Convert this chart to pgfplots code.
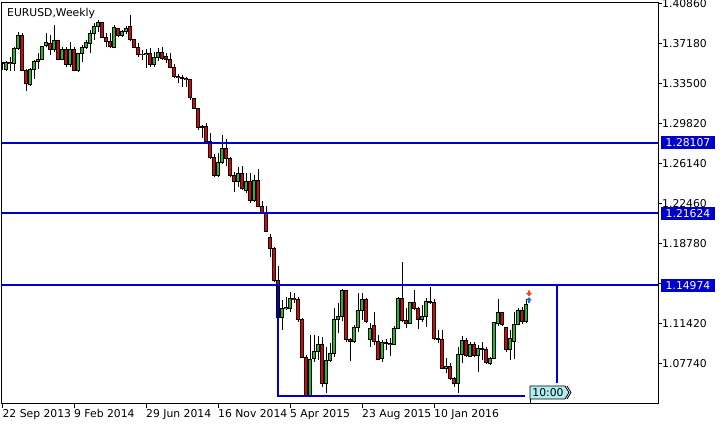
\documentclass[border=0pt]{standalone}
\usepackage{pgfplots}
\pgfplotsset{compat=1.18}
\usepackage{pgfplotstable}
\usepackage{fontspec}
\setmainfont{DejaVu Sans}
\definecolor{hl}{RGB}{0,0,204}
\definecolor{bull}{RGB}{30,190,30}
\definecolor{bear}{RGB}{230,0,0}
\definecolor{tlab}{RGB}{176,238,238}
\definecolor{sellc}{RGB}{240,70,30}
\definecolor{buyc}{RGB}{30,110,200}
\newcommand{\mtfont}{\fontsize{10.8bp}{12bp}\selectfont}

\pgfdeclareplotmark{arrdown}{%
  \pgfpathmoveto{\pgfqpoint{-1bp}{3bp}}\pgfpathlineto{\pgfqpoint{1bp}{3bp}}%
  \pgfpathlineto{\pgfqpoint{1bp}{0.5bp}}\pgfpathlineto{\pgfqpoint{3bp}{0.5bp}}%
  \pgfpathlineto{\pgfqpoint{0bp}{-3bp}}\pgfpathlineto{\pgfqpoint{-3bp}{0.5bp}}%
  \pgfpathlineto{\pgfqpoint{-1bp}{0.5bp}}\pgfpathclose\pgfusepathqfill}
\pgfdeclareplotmark{arrup}{%
  \pgfpathmoveto{\pgfqpoint{-1bp}{-3bp}}\pgfpathlineto{\pgfqpoint{1bp}{-3bp}}%
  \pgfpathlineto{\pgfqpoint{1bp}{-0.5bp}}\pgfpathlineto{\pgfqpoint{3bp}{-0.5bp}}%
  \pgfpathlineto{\pgfqpoint{0bp}{3bp}}\pgfpathlineto{\pgfqpoint{-3bp}{-0.5bp}}%
  \pgfpathlineto{\pgfqpoint{-1bp}{-0.5bp}}\pgfpathclose\pgfusepathqfill}

\pgfplotstableread{
i O H L C
-1 1.35432 1.35524 1.34788 1.35340
0 1.34852 1.35616 1.34696 1.35460
1 1.35460 1.36012 1.34724 1.35340
2 1.35340 1.36932 1.34724 1.36784
3 1.36784 1.38312 1.36628 1.37916
4 1.37916 1.38164 1.34650 1.34724
5 1.34724 1.34834 1.32884 1.33564
6 1.33472 1.34944 1.33344 1.34852
7 1.34852 1.35708 1.33988 1.35524
8 1.35524 1.36324 1.34852 1.35772
9 1.35772 1.36996 1.35708 1.36932
10 1.37042 1.38164 1.36904 1.37336
11 1.37244 1.38008 1.36168 1.36692
12 1.36692 1.38928 1.36472 1.37456
13 1.37484 1.37548 1.35708 1.35772
14 1.35772 1.36932 1.35662 1.36628
15 1.36628 1.36932 1.35092 1.35312
16 1.35312 1.37336 1.35092 1.36692
17 1.36692 1.36876 1.34650 1.34724
18 1.34724 1.36380 1.34632 1.36260
19 1.36260 1.37088 1.35552 1.36876
20 1.36876 1.37548 1.36692 1.37336
21 1.37244 1.38468 1.36324 1.38164
22 1.38100 1.39084 1.37548 1.38772
23 1.38772 1.39388 1.38312 1.39140
24 1.39140 1.39232 1.37704 1.37796
25 1.37796 1.38164 1.36932 1.37392
26 1.37392 1.38164 1.36784 1.36932
27 1.36876 1.38928 1.36784 1.38716
28 1.38560 1.38624 1.37796 1.37916
29 1.37916 1.38468 1.37852 1.38284
30 1.38284 1.38836 1.38100 1.38624
31 1.38744 1.39848 1.37484 1.37548
32 1.37548 1.37594 1.36784 1.36876
33 1.36876 1.37300 1.36012 1.36232
34 1.36232 1.36628 1.35708 1.36168
35 1.36168 1.36720 1.34944 1.36306
36 1.36306 1.36784 1.35092 1.35312
37 1.35312 1.36472 1.35036 1.35920
38 1.35920 1.36784 1.35644 1.36416
39 1.36416 1.36932 1.35708 1.35800
40 1.36002 1.36324 1.35460 1.35772
41 1.35772 1.36324 1.34944 1.35036
42 1.35036 1.35340 1.34024 1.34172
43 1.34172 1.34420 1.33564 1.34098
44 1.34098 1.34328 1.33252 1.34006
45 1.34006 1.34144 1.33224 1.33932
46 1.33932 1.33960 1.32028 1.32212
47 1.32166 1.32212 1.31200 1.31264
48 1.31264 1.31292 1.29268 1.29452
49 1.29452 1.29728 1.28532 1.29544
50 1.29544 1.29940 1.28100 1.28164
51 1.28164 1.28992 1.26600 1.26720
52 1.26720 1.27060 1.24944 1.25036
53 1.25036 1.27152 1.24944 1.26232
54 1.26232 1.28808 1.26140 1.27520
55 1.27520 1.28440 1.25956 1.26600
56 1.26600 1.26784 1.24944 1.25036
57 1.25036 1.25404 1.23564 1.24484
58 1.24484 1.25864 1.24024 1.25220
59 1.25220 1.25956 1.23748 1.23840
60 1.23656 1.25312 1.23472 1.24484
61 1.24484 1.25312 1.22552 1.22736
62 1.22736 1.25128 1.22644 1.24576
63 1.24576 1.25680 1.22138 1.22184
64 1.22184 1.22736 1.21586 1.21632
65 1.21632 1.22276 1.19838 1.19884
66 1.19332 1.19700 1.17584 1.18320
67 1.18320 1.18504 1.15284 1.15376
68 1.15376 1.16756 1.10960 1.11972
69 1.11972 1.13628 1.10868 1.12800
70 1.12800 1.13932 1.12708 1.12938
71 1.12800 1.14392 1.12552 1.13784
72 1.13784 1.14272 1.13352 1.13674
73 1.13674 1.13932 1.11632 1.11788
74 1.11788 1.11944 1.08264 1.08320
75 1.08320 1.08568 1.04676 1.04796
76 1.04796 1.10408 1.04658 1.08108
77 1.08228 1.10408 1.07924 1.08872
78 1.08872 1.10316 1.08108 1.09552
79 1.09552 1.10252 1.05652 1.05964
80 1.05946 1.09332 1.05100 1.08016
81 1.08016 1.09644 1.07952 1.08660
82 1.08660 1.12864 1.08412 1.11852
83 1.11852 1.13324 1.10564 1.12064
84 1.12064 1.14612 1.11724 1.14456
85 1.14456 1.14484 1.09792 1.09948
86 1.09948 1.10104 1.08044 1.09810
87 1.09810 1.11328 1.09700 1.11080
88 1.11052 1.14300 1.10712 1.12616
89 1.12616 1.14300 1.11788 1.13628
90 1.13628 1.13784 1.11540 1.11632
91 1.09948 1.11484 1.09332 1.11024
92 1.11236 1.12552 1.09488 1.09792
93 1.09792 1.10408 1.08108 1.08172
94 1.08200 1.09948 1.07952 1.09736
95 1.09736 1.10012 1.09028 1.09644
96 1.09644 1.10104 1.08476 1.09534
97 1.09534 1.11236 1.09488 1.11024
98 1.11024 1.13932 1.10932 1.13784
99 1.13766 1.17096 1.11632 1.11724
100 1.11724 1.12864 1.11024 1.11484
101 1.11484 1.13472 1.11420 1.13380
102 1.13380 1.14548 1.12708 1.12800
103 1.12800 1.13012 1.10932 1.11852
104 1.11852 1.13168 1.11632 1.12092
105 1.12092 1.13784 1.11172 1.13472
106 1.13472 1.14852 1.13260 1.13380
107 1.13380 1.13692 1.09948 1.10104
108 1.10104 1.10868 1.09626 1.10012
109 1.10012 1.10868 1.07252 1.07344
110 1.07344 1.08264 1.06884 1.07492
111 1.07492 1.07804 1.06268 1.06424
112 1.06424 1.06572 1.05652 1.05900
113 1.05900 1.09332 1.05100 1.08632
114 1.08632 1.10316 1.07804 1.09856
115 1.09856 1.10104 1.08412 1.08476
116 1.08412 1.09792 1.08356 1.09488
117 1.09488 1.09792 1.08356 1.08476
118 1.08476 1.09488 1.07032 1.09184
119 1.09184 1.09792 1.08108 1.09092
120 1.09092 1.09332 1.07740 1.07860
121 1.07804 1.08356 1.07648 1.08264
122 1.08264 1.11604 1.08172 1.11540
123 1.11420 1.13692 1.11236 1.12496
124 1.12496 1.12524 1.11236 1.11328
125 1.11080 1.11172 1.08872 1.09092
126 1.09028 1.10868 1.08108 1.10104
127 1.09792 1.12552 1.08172 1.11392
128 1.11392 1.12864 1.11328 1.12616
129 1.12616 1.13012 1.11420 1.11632
130 1.11632 1.13692 1.11484 1.13232
}\candles

\begin{document}
\begin{tikzpicture}
\fill[white] (0,0) rectangle (728bp,428bp);
\begin{axis}[
  name=ax, at={(1bp,24bp)}, anchor=south west,
  scale only axis, width=657bp, height=401bp,
  xmin=-1.25, xmax=163, ymin=1.0406, ymax=1.40952,
  axis line style={black, line width=1bp},
  tick style={black, line width=1bp},
  tick align=outside, major tick length=4bp,
  xtick pos=bottom, ytick pos=right,
  xtick={-0.9,17,35,53,71,89,107},
  xticklabels={22 Sep 2013,9 Feb 2014,29 Jun 2014,16 Nov 2014,5 Apr 2015,23 Aug 2015,10 Jan 2016},
  ytick={1.0774,1.1142,1.1510,1.1878,1.2246,1.2614,1.2982,1.3350,1.3718,1.4086},
  yticklabels={1.07740,1.11420,,1.18780,1.22460,1.26140,1.29820,1.33500,1.37180,1.40860},
  yticklabel pos=right,
  xticklabel style={anchor=north west, inner sep=0pt, yshift=-1.5bp, font=\mtfont},
  yticklabel style={anchor=west, inner sep=0pt, font=\mtfont},
  clip=true,
]
% wicks
\addplot[black, line width=1bp, forget plot,
  quiver={u=0, v={\thisrow{H}-\thisrow{L}}}] table[x=i, y=L] {\candles};
% body outlines
\addplot[black, line width=3.4bp, forget plot,
  quiver={u=0, v={\thisrow{C}-\thisrow{O}},
    every arrow/.append style={shorten <=-0.5bp, shorten >=-0.5bp}}]
  table[x=i, y=O] {\candles};
% bull bodies
\addplot[bull, line width=1.6bp, forget plot,
  restrict expr to domain={\thisrow{C}-\thisrow{O}}{0:1},
  quiver={u=0, v={\thisrow{C}-\thisrow{O}},
    every arrow/.append style={shorten <=0.5bp, shorten >=0.5bp}}]
  table[x=i, y=O] {\candles};
% bear bodies
\addplot[bear, line width=1.6bp, forget plot,
  restrict expr to domain={\thisrow{C}-\thisrow{O}}{-1:0},
  quiver={u=0, v={\thisrow{C}-\thisrow{O}},
    every arrow/.append style={shorten <=0.5bp, shorten >=0.5bp}}]
  table[x=i, y=O] {\candles};
% horizontal levels
\addplot[hl, line width=2bp, forget plot] coordinates {(-5,1.28107) (170,1.28107)};
\addplot[hl, line width=2bp, forget plot] coordinates {(-5,1.21624) (170,1.21624)};
\addplot[hl, line width=2bp, forget plot] coordinates {(-5,1.14974) (170,1.14974)};
% rectangle
\addplot[hl, line width=2bp, forget plot] coordinates {(129.75,1.04796) (68,1.04796) (68,1.14974) (137.8,1.14974) (137.8,1.0599)};
% trade arrows
\addplot[only marks, mark=arrdown, color=sellc, forget plot] coordinates {(130.75,1.14226)};
\addplot[only marks, mark=arrup, color=buyc, forget plot] coordinates {(130.75,1.13628)};
\coordinate (l1) at (axis cs:163,1.28107);
\coordinate (l2) at (axis cs:163,1.21624);
\coordinate (l3) at (axis cs:163,1.14974);
\end{axis}
\foreach \c/\t in {l1/1.28107, l2/1.21624, l3/1.14974}{
  \node[anchor=west, fill=hl, text=white, inner xsep=4.5bp, inner ysep=0pt,
        minimum height=13bp, font=\mtfont] at ([xshift=3bp]\c) {\t};
}
% title
\node[anchor=base west, inner sep=0pt, font=\mtfont] at (7bp,411.5bp) {EURUSD,Weekly};
% time label
\draw[black, line width=0.8bp] (530bp,29bp) -- (530bp,24bp);
\filldraw[fill=tlab, draw=black, line width=0.8bp]
  (530bp,42bp) -- (565bp,42bp) -- (569bp,35.5bp) -- (565bp,29bp) -- (530bp,29bp) -- cycle;
\draw[black, line width=0.8bp] (567bp,42bp) -- (571bp,35.5bp) -- (567bp,29bp);
\node[inner sep=0pt, font=\mtfont] at (548bp,35.5bp) {10:00};
\pgfresetboundingbox
\path[use as bounding box] (0,0) rectangle (728bp,428bp);
\end{tikzpicture}
\end{document}
